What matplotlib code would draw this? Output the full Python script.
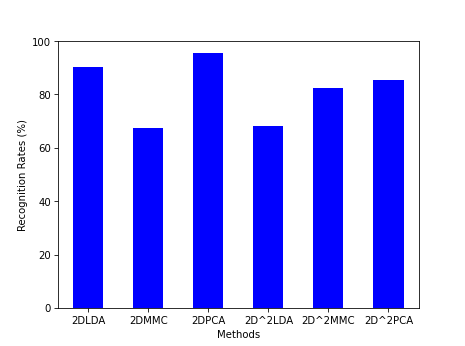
import matplotlib
matplotlib.use("Agg")
import matplotlib.pyplot as plt

methods = ['2DLDA', '2DMMC', '2DPCA', '2D^2LDA', '2D^2MMC', '2D^2PCA']
rates = [90.3, 67.3, 95.4, 68.2, 82.3, 85.2]

fig = plt.figure(figsize=(6.4, 4.77), dpi=72.66)
ax = fig.add_subplot(111)
ax.bar(range(len(methods)), rates, width=0.5, color='blue')
ax.set_xticks(range(len(methods)))
ax.set_xticklabels(methods)
ax.set_xlim(-0.5, len(methods) - 0.5)
ax.set_ylim(0, 100)
ax.set_xlabel('Methods')
ax.set_ylabel('Recognition Rates (%)')
fig.savefig('out.png', dpi=72.66)
